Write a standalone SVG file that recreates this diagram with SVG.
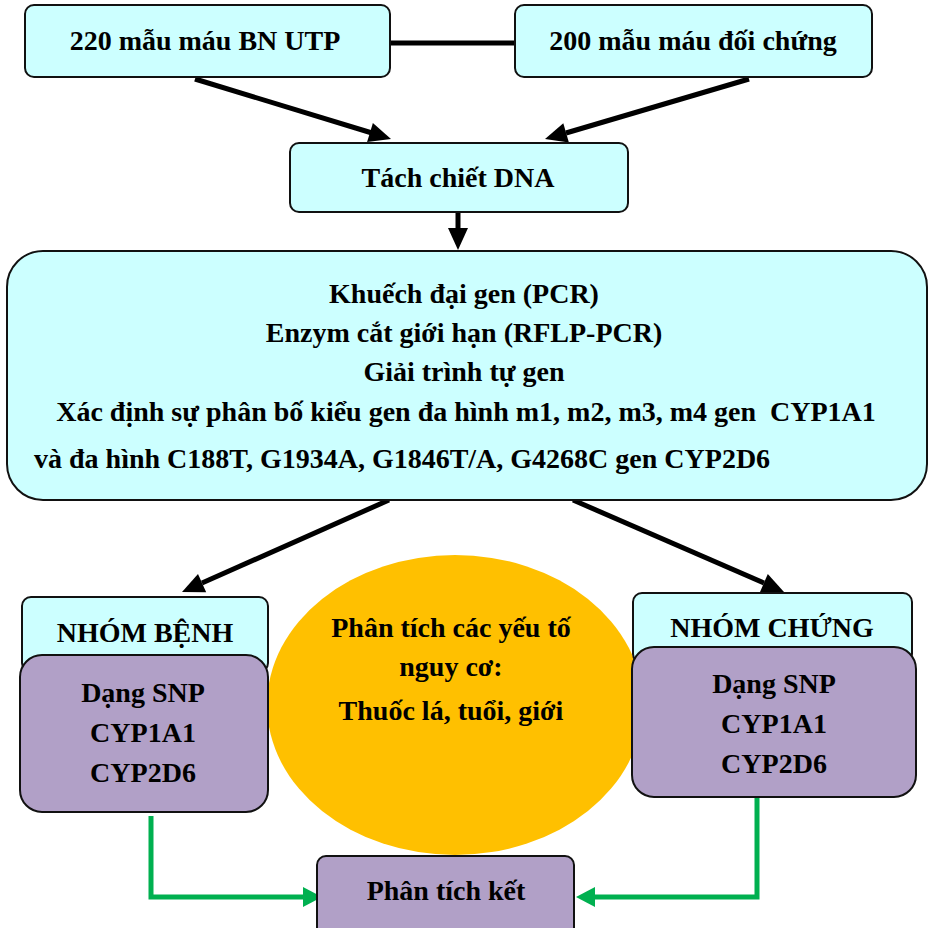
<svg xmlns="http://www.w3.org/2000/svg" width="929" height="928" viewBox="0 0 929 928">
<rect width="929" height="928" fill="#fff"/>

<g id="connectors">
<line x1="390" y1="43" x2="515" y2="43" stroke="#000" stroke-width="5"/>
<line x1="195" y1="79" x2="372" y2="133" stroke="#000" stroke-width="5"/>
<polygon points="391,139 367.1,142.1 372.9,123" fill="#000"/>
<line x1="749" y1="79" x2="566" y2="133" stroke="#000" stroke-width="5"/>
<polygon points="545,139 563.3,123.2 568.9,142.4" fill="#000"/>
<line x1="458" y1="212" x2="458" y2="229" stroke="#000" stroke-width="5"/>
<polygon points="448,228 468,228 458,250" fill="#000"/>
<line x1="389" y1="500" x2="202" y2="583" stroke="#000" stroke-width="5"/>
<polygon points="182,592 198,573.9 206.2,592.2" fill="#000"/>
<line x1="573" y1="500" x2="764" y2="583" stroke="#000" stroke-width="5"/>
<polygon points="784,592 759.8,592.4 767.8,574" fill="#000"/>
<polyline points="151,816 151,897 305,897" fill="none" stroke="#00B050" stroke-width="5"/>
<polygon points="322,897 303,887 303,907" fill="#00B050"/>
<polyline points="757,797 757,897 593,897" fill="none" stroke="#00B050" stroke-width="5"/>
<polygon points="576,897 595,887 595,907" fill="#00B050"/>
</g>

<g id="n-risk">
<ellipse cx="455" cy="705" rx="188" ry="150" fill="#FFC000"/>
<text font-family="Tinos, Liberation Serif, Times New Roman, serif" font-weight="bold" font-size="28" text-anchor="middle" x="451" y="637">Phân tích các yếu tố</text>
<text font-family="Tinos, Liberation Serif, Times New Roman, serif" font-weight="bold" font-size="28" text-anchor="middle" x="451" y="676">nguy cơ:</text>
<text font-family="Tinos, Liberation Serif, Times New Roman, serif" font-weight="bold" font-size="28" text-anchor="middle" x="451" y="720">Thuốc lá, tuổi, giới</text>
</g>

<g id="n-bn">
<rect x="25" y="5" width="365" height="72" rx="9" fill="#CCFFFF" stroke="#111" stroke-width="2"/>
<text font-family="Tinos, Liberation Serif, Times New Roman, serif" font-weight="bold" font-size="28" text-anchor="middle" x="205" y="50">220 mẫu máu BN UTP</text>
</g>

<g id="n-dc">
<rect x="515" y="5" width="357" height="72" rx="9" fill="#CCFFFF" stroke="#111" stroke-width="2"/>
<text font-family="Tinos, Liberation Serif, Times New Roman, serif" font-weight="bold" font-size="28" text-anchor="middle" x="693" y="50">200 mẫu máu đối chứng</text>
</g>

<g id="n-dna">
<rect x="290" y="143" width="338" height="69" rx="9" fill="#CCFFFF" stroke="#111" stroke-width="2"/>
<text font-family="Tinos, Liberation Serif, Times New Roman, serif" font-weight="bold" font-size="28" text-anchor="middle" x="458" y="187">Tách chiết DNA</text>
</g>

<g id="n-pcr">
<rect x="7" y="251" width="920" height="249" rx="36" fill="#CCFFFF" stroke="#111" stroke-width="2"/>
<text font-family="Tinos, Liberation Serif, Times New Roman, serif" font-weight="bold" font-size="28" text-anchor="middle" x="464" y="303">Khuếch đại gen (PCR)</text>
<text font-family="Tinos, Liberation Serif, Times New Roman, serif" font-weight="bold" font-size="28" text-anchor="middle" x="464" y="342">Enzym cắt giới hạn (RFLP-PCR)</text>
<text font-family="Tinos, Liberation Serif, Times New Roman, serif" font-weight="bold" font-size="28" text-anchor="middle" x="464" y="381">Giải trình tự gen</text>
<text font-family="Tinos, Liberation Serif, Times New Roman, serif" font-weight="bold" font-size="28" text-anchor="middle" x="466" y="421" xml:space="preserve">Xác định sự phân bố kiểu gen đa hình m1, m2, m3, m4 gen  CYP1A1</text>
<text font-family="Tinos, Liberation Serif, Times New Roman, serif" font-weight="bold" font-size="28" text-anchor="start" x="34" y="468">và đa hình C188T, G1934A, G1846T/A, G4268C gen CYP2D6</text>
</g>

<g id="n-benh">
<rect x="22" y="597" width="246" height="75" rx="9" fill="#CCFFFF" stroke="#111" stroke-width="2"/>
<text font-family="Tinos, Liberation Serif, Times New Roman, serif" font-weight="bold" font-size="28" text-anchor="middle" x="145" y="642">NHÓM BỆNH</text>
</g>

<g id="n-benh-snp">
<rect x="20" y="655" width="248" height="157" rx="22" fill="#B1A0C7" stroke="#111" stroke-width="2"/>
<text font-family="Tinos, Liberation Serif, Times New Roman, serif" font-weight="bold" font-size="28" text-anchor="middle" x="143" y="702">Dạng SNP</text>
<text font-family="Tinos, Liberation Serif, Times New Roman, serif" font-weight="bold" font-size="28" text-anchor="middle" x="143" y="742">CYP1A1</text>
<text font-family="Tinos, Liberation Serif, Times New Roman, serif" font-weight="bold" font-size="28" text-anchor="middle" x="143" y="782">CYP2D6</text>
</g>

<g id="n-chung">
<rect x="633" y="593" width="279" height="70" rx="9" fill="#CCFFFF" stroke="#111" stroke-width="2"/>
<text font-family="Tinos, Liberation Serif, Times New Roman, serif" font-weight="bold" font-size="28" text-anchor="middle" x="772" y="637">NHÓM CHỨNG</text>
</g>

<g id="n-chung-snp">
<rect x="632" y="647" width="284" height="150" rx="22" fill="#B1A0C7" stroke="#111" stroke-width="2"/>
<text font-family="Tinos, Liberation Serif, Times New Roman, serif" font-weight="bold" font-size="28" text-anchor="middle" x="774" y="693">Dạng SNP</text>
<text font-family="Tinos, Liberation Serif, Times New Roman, serif" font-weight="bold" font-size="28" text-anchor="middle" x="774" y="733">CYP1A1</text>
<text font-family="Tinos, Liberation Serif, Times New Roman, serif" font-weight="bold" font-size="28" text-anchor="middle" x="774" y="773">CYP2D6</text>
</g>

<g id="n-kq">
<rect x="317" y="856" width="257" height="90" rx="9" fill="#B1A0C7" stroke="#111" stroke-width="2"/>
<text font-family="Tinos, Liberation Serif, Times New Roman, serif" font-weight="bold" font-size="28" text-anchor="middle" x="446" y="900">Phân tích kết</text>
</g>
</svg>
